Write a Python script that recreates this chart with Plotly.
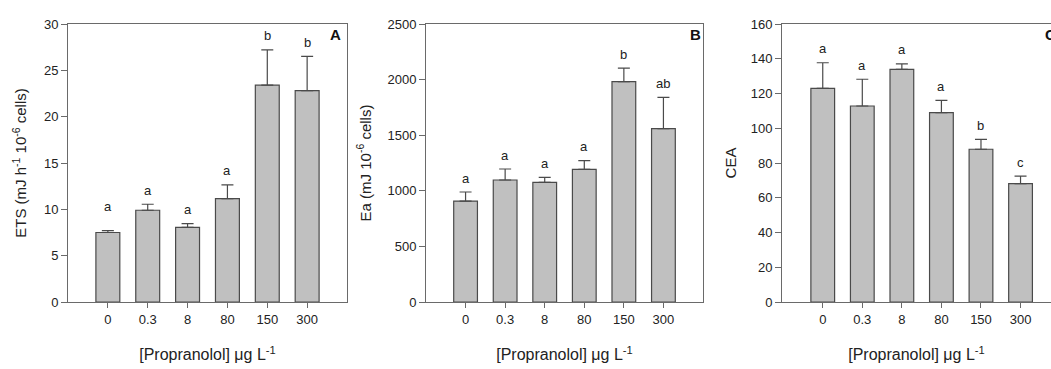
import plotly.graph_objects as go

# ---------------- data ----------------
categories = ["0", "0.3", "8", "80", "150", "300"]

ets_mean = [7.5, 9.9, 8.05, 11.15, 23.4, 22.8]
ets_err = [0.2, 0.65, 0.4, 1.5, 3.8, 3.7]
ets_letters = ["a", "a", "a", "a", "b", "b"]

ea_mean = [908, 1097, 1076, 1193, 1981, 1559]
ea_err = [81, 99, 45, 78, 123, 281]
ea_letters = ["a", "a", "a", "a", "b", "ab"]

cea_mean = [123.0, 112.8, 133.9, 109.0, 87.9, 68.1]
cea_err = [14.7, 15.4, 3.1, 7.1, 5.7, 4.4]
cea_letters = ["a", "a", "a", "a", "b", "c"]

panel_labels = ["A", "B", "C"]
y_titles = ["ETS (mJ h<sup>-1</sup> 10<sup>-6</sup> cells)",
            "Ea (mJ 10<sup>-6</sup> cells)",
            "CEA"]
x_title = "[Propranolol] \u03bcg L<sup>-1</sup>"
y_ranges = [[0, 30], [0, 2500], [0, 160]]
y_dticks = [5, 500, 20]

# ---------------- layout / style ----------------
W, H = 1051, 369
FONT = "Liberation Sans, Arial, sans-serif"
BAR_FILL = "#c0c0c0"
EDGE = "#4a4a4a"
AXIS = "#6a6a6a"
TXT = "#222222"

# pixel extents of each plotting area
px_left = [68, 426, 782]
px_right = [347, 703, 1051]
px_top, px_bottom = 24, 302
x_ranges = [[-1, 6], [-1, 6], [-1.03, 5.77]]
y_standoff = [13, 12, 10]

series = [(ets_mean, ets_err, ets_letters),
          (ea_mean, ea_err, ea_letters),
          (cea_mean, cea_err, cea_letters)]

fig = go.Figure()
annotations = []

for i, (mean, err, letters) in enumerate(series):
    xa = "x" if i == 0 else f"x{i+1}"
    ya = "y" if i == 0 else f"y{i+1}"
    fig.add_trace(go.Bar(
        x=categories, y=mean,
        width=0.6,
        marker=dict(color=BAR_FILL, line=dict(color=EDGE, width=1.2)),
        error_y=dict(type="data", array=err, symmetric=False,
                     arrayminus=[0] * len(err),
                     color=EDGE, thickness=1.2, width=6),
        xaxis=xa, yaxis=ya, showlegend=False, hoverinfo="skip",
    ))
    for j, (m, e, L) in enumerate(zip(mean, err, letters)):
        extra = 10 if (i == 0 and j == 0) else 0
        annotations.append(dict(
            x=j, y=m + e, xref=xa, yref=ya, text=L, showarrow=False,
            yanchor="middle", yshift=14 + extra,
            font=dict(family=FONT, size=13, color=TXT)))
    # panel letter
    annotations.append(dict(
        x=[335, 695, 1050][i] / W, y=(H - 35) / H, xref="paper", yref="paper",
        text=f"<b>{panel_labels[i]}</b>", showarrow=False,
        xanchor="center", yanchor="middle",
        font=dict(family=FONT, size=15, color="#111111")))

    dom_x = [px_left[i] / W, px_right[i] / W]
    dom_y = [(H - px_bottom) / H, (H - px_top) / H]
    xkey = "xaxis" if i == 0 else f"xaxis{i+1}"
    ykey = "yaxis" if i == 0 else f"yaxis{i+1}"
    fig.update_layout({
        xkey: dict(
            domain=dom_x, anchor=ya, type="category",
            range=x_ranges[i],
            showline=True, linecolor=AXIS, linewidth=1, mirror=True,
            ticks="outside", ticklen=5, tickcolor=AXIS, tickwidth=1,
            showgrid=False, zeroline=False,
            tickfont=dict(family=FONT, size=13, color=TXT),
            title=dict(text=x_title, font=dict(family=FONT, size=16, color=TXT),
                       standoff=23),
            automargin=False,
        ),
        ykey: dict(
            domain=dom_y, anchor=xa,
            range=y_ranges[i], dtick=y_dticks[i], tick0=0,
            showline=True, linecolor=AXIS, linewidth=1,
            mirror=(i < 2),
            ticks="outside", ticklen=6, tickcolor=AXIS, tickwidth=1,
            showgrid=False, zeroline=False,
            tickfont=dict(family=FONT, size=13, color=TXT),
            title=dict(text=y_titles[i], font=dict(family=FONT, size=15, color=TXT),
                       standoff=y_standoff[i]),
            automargin=False,
        ),
    })

fig.update_layout(
    width=W, height=H,
    margin=dict(l=0, r=0, t=0, b=0),
    paper_bgcolor="white", plot_bgcolor="white",
    annotations=annotations,
    bargap=0.4,
)

fig.write_html("out.html")
